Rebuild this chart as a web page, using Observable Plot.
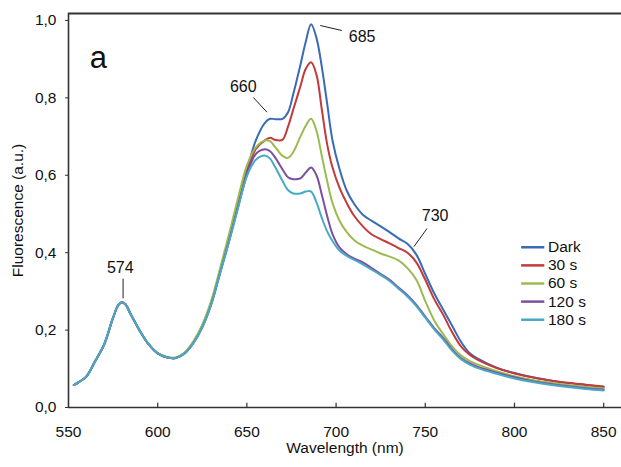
<!DOCTYPE html>
<html><head><meta charset="utf-8">
<script src="https://cdn.jsdelivr.net/npm/d3@7"></script>
<script src="https://cdn.jsdelivr.net/npm/@observablehq/plot@0.6"></script>
<style>body{margin:0;background:#fff;}</style>
</head><body><div id="chart"></div>
<script>
const wavelengths = [553,556,560,565,570,575,578,580,582,585,590,595,600,605,610,615,620,625,630,635,640,645,650,
  655,660,663,666,670,673,676,680,683,686,689,692,695,698,702,706,710,715,720,725,730,735,740,745,750,755,760,765,770,
  775,780,790,800,810,820,830,840,850];
const dark = [0.058,0.066,0.080,0.120,0.163,0.232,0.265,0.272,0.266,0.240,0.198,0.163,0.140,0.130,0.128,0.140,0.168,0.210,0.270,0.352,0.436,0.526,0.612,
  0.690,0.735,0.746,0.745,0.746,0.762,0.810,0.885,0.945,0.990,0.955,0.880,0.785,0.690,0.615,0.560,0.527,0.498,0.482,0.468,0.453,0.437,0.423,0.395,0.345,0.295,0.253,0.212,0.170,
  0.140,0.125,0.103,0.089,0.078,0.070,0.063,0.058,0.053];
const s30 = [0.058,0.066,0.080,0.120,0.163,0.232,0.265,0.272,0.266,0.240,0.198,0.163,0.140,0.130,0.128,0.140,0.168,0.210,0.268,0.350,0.432,0.522,0.605,
  0.668,0.690,0.697,0.691,0.692,0.725,0.770,0.830,0.875,0.892,0.860,0.770,0.680,0.620,0.567,0.528,0.496,0.468,0.447,0.435,0.424,0.412,0.400,0.375,0.330,0.280,0.240,0.195,0.158,
  0.136,0.122,0.102,0.088,0.078,0.070,0.064,0.059,0.054];
const s60 = [0.058,0.066,0.080,0.120,0.163,0.232,0.265,0.272,0.266,0.240,0.198,0.163,0.141,0.131,0.129,0.142,0.171,0.214,0.276,0.360,0.448,0.540,0.625,
  0.672,0.690,0.688,0.672,0.650,0.645,0.660,0.700,0.728,0.746,0.715,0.650,0.585,0.528,0.482,0.453,0.433,0.418,0.408,0.398,0.390,0.380,0.360,0.330,0.275,0.225,0.190,0.158,0.135,
  0.120,0.110,0.094,0.081,0.071,0.064,0.058,0.053,0.049];
const s120 = [0.058,0.066,0.080,0.120,0.163,0.232,0.265,0.272,0.266,0.240,0.198,0.163,0.140,0.130,0.128,0.139,0.166,0.207,0.266,0.348,0.430,0.517,0.600,
  0.655,0.667,0.662,0.645,0.615,0.595,0.590,0.592,0.607,0.620,0.600,0.550,0.495,0.448,0.413,0.396,0.385,0.375,0.360,0.345,0.330,0.310,0.290,0.265,0.235,0.205,0.180,0.150,0.128,
  0.114,0.104,0.090,0.078,0.068,0.061,0.055,0.050,0.046];
const s180 = [0.058,0.066,0.080,0.120,0.163,0.232,0.265,0.272,0.266,0.240,0.198,0.163,0.140,0.130,0.128,0.139,0.166,0.207,0.266,0.347,0.428,0.515,0.598,
  0.640,0.651,0.643,0.620,0.585,0.562,0.553,0.553,0.558,0.558,0.530,0.490,0.455,0.430,0.405,0.392,0.382,0.370,0.356,0.342,0.327,0.307,0.287,0.262,0.232,0.202,0.176,0.147,0.125,
  0.111,0.101,0.087,0.075,0.066,0.059,0.053,0.048,0.044];
const seriesNames = ["Dark","30 s","60 s","120 s","180 s"];
const seriesColors = ["#3A6BB5","#C23A3A","#9BBB4F","#7B50A0","#47A9C6"];
const xTicks = [550,600,650,700,750,800,850];
const yTicks = [0,0.2,0.4,0.6,0.8,1.0];
const peakLabels = ["574","660","685","730"];
const peakLabelX = [579,648,714.6,755.5];
const peakLabelY = [0.362,0.828,0.957,0.495];
const leaderX1 = [580.6,653.6,691.1,751];
const leaderY1 = [0.333,0.801,0.987,0.4625];
const leaderX2 = [580.6,661.3,703.2,743.7];
const leaderY2 = [0.282,0.763,0.974,0.416];
const panelLetter = "a";

const allSeries = [dark, s30, s60, s120, s180];
const rows = [];
allSeries.forEach((vals, k) => vals.forEach((v, i) => rows.push({wl: wavelengths[i], v, series: seriesNames[k]})));
const leaders = peakLabels.map((t, i) => ({x1: leaderX1[i], y1: leaderY1[i], x2: leaderX2[i], y2: leaderY2[i]}));
const labels = peakLabels.map((t, i) => ({t, x: peakLabelX[i], y: peakLabelY[i]}));

const chart = Plot.plot({
  width: 621, height: 467,
  marginLeft: 68, marginRight: 0, marginTop: 13, marginBottom: 60,
  style: {fontFamily: "'Liberation Sans', Arial, sans-serif", fontSize: "15.5px", color: "#111", background: "#fff"},
  x: {domain: [550, 860]},
  y: {domain: [0, 1.018]},
  color: {domain: seriesNames, range: seriesColors},
  marks: [
    Plot.axisY({ticks: yTicks, tickSize: 3, tickPadding: 9, tickFormat: d => d.toFixed(1).replace(".", ","), label: null, stroke: "#333", fontSize: 15.5}),
    Plot.axisX({ticks: xTicks, tickSize: 0, tickPadding: 18, tickFormat: d => String(d), label: null, fontSize: 15.5}),
    Plot.ruleX(xTicks.slice(1), {y1: 0, y2: 0.011, stroke: "#333", strokeWidth: 1.2}),
    Plot.lineY(rows, {x: "wl", y: "v", z: "series", stroke: "series", strokeWidth: 2, curve: "catmull-rom"}),
    Plot.ruleY([0], {stroke: "#333", strokeWidth: 1.6}),
    Plot.ruleY([1.018], {stroke: "#333", strokeWidth: 2}),
    Plot.ruleX([550], {stroke: "#333", strokeWidth: 1.6}),
    Plot.link(leaders, {x1: "x1", y1: "y1", x2: "x2", y2: "y2", stroke: "#222", strokeWidth: 1}),
    Plot.text(labels, {x: "x", y: "y", text: "t", fontSize: 16, fill: "#111"}),
    Plot.text([panelLetter], {x: 566.8, y: 0.902, text: d => d, fontSize: 31, fill: "#111"}),
    Plot.ruleY(seriesNames, {x1: 804, x2: 817, y: (d, i) => 0.414 - i * 0.0468, stroke: d => d, strokeWidth: 2.5}),
    Plot.text(seriesNames, {x: 818.8, y: (d, i) => 0.414 - i * 0.0468, text: d => d, textAnchor: "start", fontSize: 15.5, fill: "#111"}),
    Plot.text(["Wavelength (nm)"], {frameAnchor: "bottom", dy: 45, text: d => d, textAnchor: "middle", fontSize: 15.5, fill: "#111"}),
    Plot.text(["Fluorescence (a.u.)"], {frameAnchor: "left", dx: -50, rotate: -90, text: d => d, textAnchor: "middle", fontSize: 15.5, fill: "#111"})
  ]
});
document.getElementById("chart").appendChild(chart);
</script>
</body></html>
